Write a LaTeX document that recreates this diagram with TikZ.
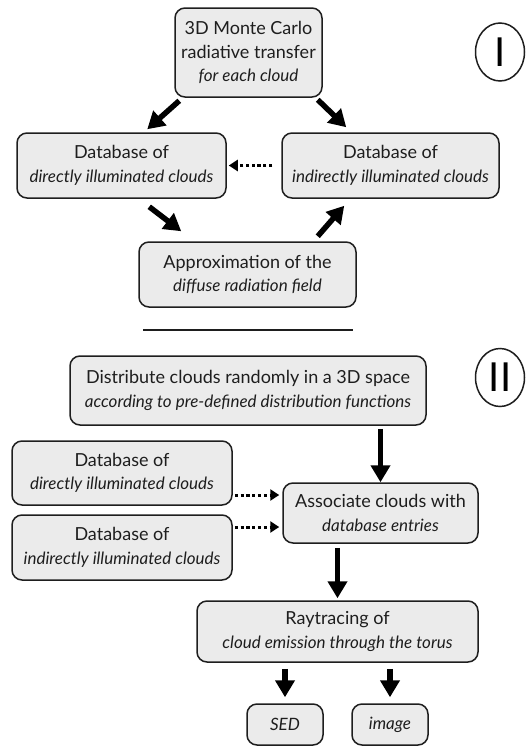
\documentclass[tikz,border=0pt]{standalone}
\usepackage{fontspec}
\setmainfont{Lato}
\usetikzlibrary{arrows.meta,shapes.geometric,calc}
\definecolor{boxfill}{HTML}{EBEBEB}
\definecolor{boxline}{HTML}{1E1E1E}
\newcommand{\itl}[1]{{\fontsize{17}{23.5}\selectfont\itshape #1}}
\begin{document}
\begin{tikzpicture}[x=1pt,y=-1pt,
  box/.style={draw=boxline, fill=boxfill, line width=1.5pt, rounded corners=10pt,
    align=center, inner sep=0pt, text=boxline, font=\fontsize{18}{23.5}\selectfont},
  bigarrow/.style={line width=5.5pt, -{Triangle[length=17pt,width=19pt]}},
  dotarrow/.style={line width=3pt, dash pattern=on 3.2pt off 2.6pt, -{Triangle[length=9pt,width=11pt]}},
  numeral/.style={draw=boxline, line width=1.5pt, ellipse, inner sep=0pt,
    minimum width=49pt, minimum height=58pt, font=\fontsize{40}{40}\selectfont}
]
\useasboundingbox (0,0) rectangle (527,747);
% Part I
\node[box, minimum width=147pt, minimum height=89pt] (A) at (248.5,52.5)
  {3D Monte Carlo\\radiative transfer\\\itl{for each cloud}};
\node[box, minimum width=209pt, minimum height=65pt] (B) at (121.5,165.5)
  {Database of\\\itl{directly illuminated clouds}};
\node[box, minimum width=217pt, minimum height=65pt] (C) at (390.5,165.5)
  {Database of\\\itl{indirectly illuminated clouds}};
\node[box, minimum width=217pt, minimum height=65pt] (D) at (247.5,274.5)
  {Approximation of the\\\itl{diffuse radiation field}};
\node[numeral] (n1) at (500,52) {I};
\draw[bigarrow] ([shift={(5,3)}]A.south west) -- ([shift={(131,-3)}]B.north west);
\draw[bigarrow] ([shift={(-5,2)}]A.south east) -- ([shift={(65,-5)}]C.north west);
\draw[bigarrow] ([shift={(133,8)}]B.south west) -- ([shift={(43,-10)}]D.north west);
\draw[bigarrow] ([shift={(-39,-5)}]D.north east) -- ([shift={(63,7)}]C.south west);
\draw[dotarrow] ([xshift=-9pt]C.west) -- ([xshift=2pt]B.east);
% separator
\coordinate (s1) at (143,330);
\coordinate (s2) at (353,330);
\draw[line width=2.5pt, boxline] (s1) -- (s2);
% Part II
\node[box, minimum width=356pt, minimum height=69pt] (E) at (248,390.5)
  {Distribute clouds randomly in a 3D space\\\itl{according to pre-defined distribution functions}};
\node[numeral] (n2) at (500,377.5) {II};
\node[box, minimum width=220pt, minimum height=64pt] (F) at (122,473)
  {Database of\\\itl{directly illuminated clouds}};
\node[box, minimum width=195pt, minimum height=60pt] (G) at (380.5,513)
  {Associate clouds with\\\itl{database entries}};
\node[box, minimum width=220pt, minimum height=65pt] (H) at (122,547.5)
  {Database of\\\itl{indirectly illuminated clouds}};
\node[box, minimum width=281pt, minimum height=61pt] (I) at (337.5,631.5)
  {Raytracing of\\\itl{cloud emission through the torus}};
\node[box, minimum width=76pt, minimum height=41pt] (S) at (285,724.5) {\itl{SED}};
\node[box, minimum width=76pt, minimum height=41pt] (M) at (390,724.5) {\itl{image}};
\draw[bigarrow, shorten <=3pt] (G.north |- E.south) -- (G.north);
\draw[dotarrow] ([shift={(2,22)}]F.east) -- ([shift={(-3,-18)}]G.west);
\draw[dotarrow] ([shift={(2,-20.5)}]H.east) -- ([shift={(-3,14)}]G.west);
\draw[bigarrow, shorten <=4pt, shorten >=2pt] (I.north |- G.south) -- (I.north);
\draw[bigarrow, shorten <=6pt, shorten >=6pt] (S.north |- I.south) -- (S.north);
\draw[bigarrow, shorten <=6pt, shorten >=6pt] (M.north |- I.south) -- (M.north);
\end{tikzpicture}
\end{document}
